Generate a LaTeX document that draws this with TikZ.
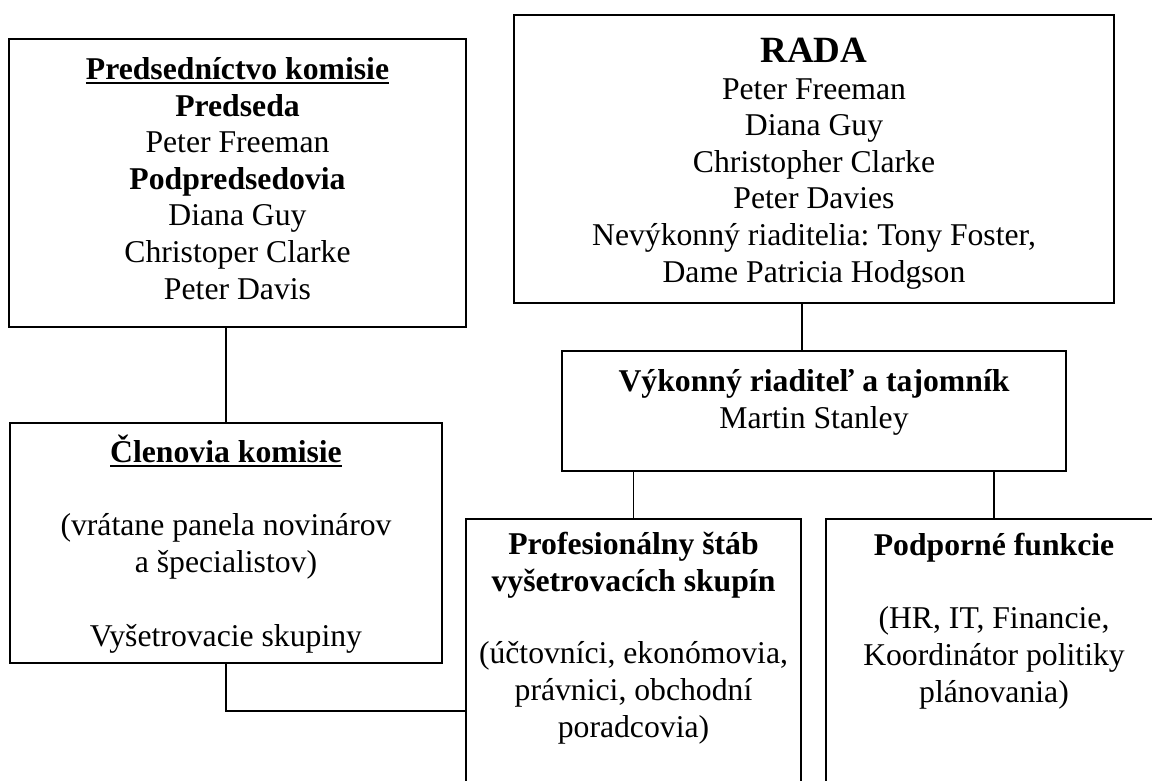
\documentclass[tikz,border=0pt]{standalone}
\usepackage{fontspec}
\setmainfont{Liberation Serif}

\newcommand{\undl}[1]{\setbox0\hbox{#1}\rlap{\rule[-5pt]{\wd0}{2.6pt}}\box0}

\tikzset{
  box/.style={draw, line width=2pt, inner sep=0pt},
  txt/.style={align=center, anchor=base, inner sep=0pt,
    font=\fontsize{31.7pt}{36.6pt}\selectfont\frenchspacing},
  link/.style={line width=1.5pt}
}

\begin{document}
\begin{tikzpicture}[x=1pt,y=-1pt]
\useasboundingbox (0,0) rectangle (1152,780);

% boxes
\node[box, minimum width=457pt, minimum height=288pt] (komisie) at (237.5,183) {};
\node[box, minimum width=600pt, minimum height=288pt] (rada) at (814,159) {};
\node[box, minimum width=504pt, minimum height=120pt] (vykonny) at (814,411) {};
\node[box, minimum width=432pt, minimum height=240pt] (clenovia) at (226,543) {};
\node[box, minimum width=335pt, minimum height=384pt] (prof) at (633.5,711) {};
\node[box, minimum width=336pt, minimum height=384pt] (podporne) at (994,711) {};

% texts (placed at the baseline of their last line)
\node[txt] (komisie-t) at (237.5,299) {\textbf{\undl{Predsedníctvo komisie}}\\
  \textbf{Predseda}\\ Peter Freeman\\ \textbf{Podpredsedovia}\\
  Diana Guy\\ Christoper Clarke\\ Peter Davis};
\node[txt] (rada-t) at (814,282) {{\fontsize{37pt}{37pt}\selectfont\bfseries RADA}\\
  Peter Freeman\\ Diana Guy\\ Christopher Clarke\\ Peter Davies\\
  Nevýkonný riaditelia: Tony Foster,\\ Dame Patricia Hodgson};
\node[txt] (vykonny-t) at (814,428) {\textbf{Výkonný riaditeľ a tajomník}\\ Martin Stanley};
\node[txt] (clenovia-t) at (226,646) {\textbf{\undl{Členovia komisie}}\\[37pt]
  (vrátane panela novinárov\\ a špecialistov)\\[37pt] Vyšetrovacie skupiny};
\node[txt] (prof-t) at (633.5,737) {\textbf{Profesionálny štáb}\\
  \textbf{vyšetrovacích skupín}\\[36pt] (účtovníci, ekonómovia,\\
  právnici, obchodní\\ poradcovia)};
\node[txt] (podporne-t) at (994,702) {\textbf{Podporné funkcie}\\[37pt]
  (HR, IT, Financie,\\ Koordinátor politiky\\ plánovania)};

% connectors
\coordinate (rada-out) at ([xshift=-12pt]rada.south);
\draw[link] (clenovia.north) -- (clenovia.north |- komisie.south);
\draw[link] (rada-out) -- (rada-out |- vykonny.north);
\draw[link] (prof.north) -- (prof.north |- vykonny.south);
\draw[link] (podporne.north) -- (podporne.north |- vykonny.south);
\draw[link] (clenovia.south) |- (prof.west);
\end{tikzpicture}
\end{document}
